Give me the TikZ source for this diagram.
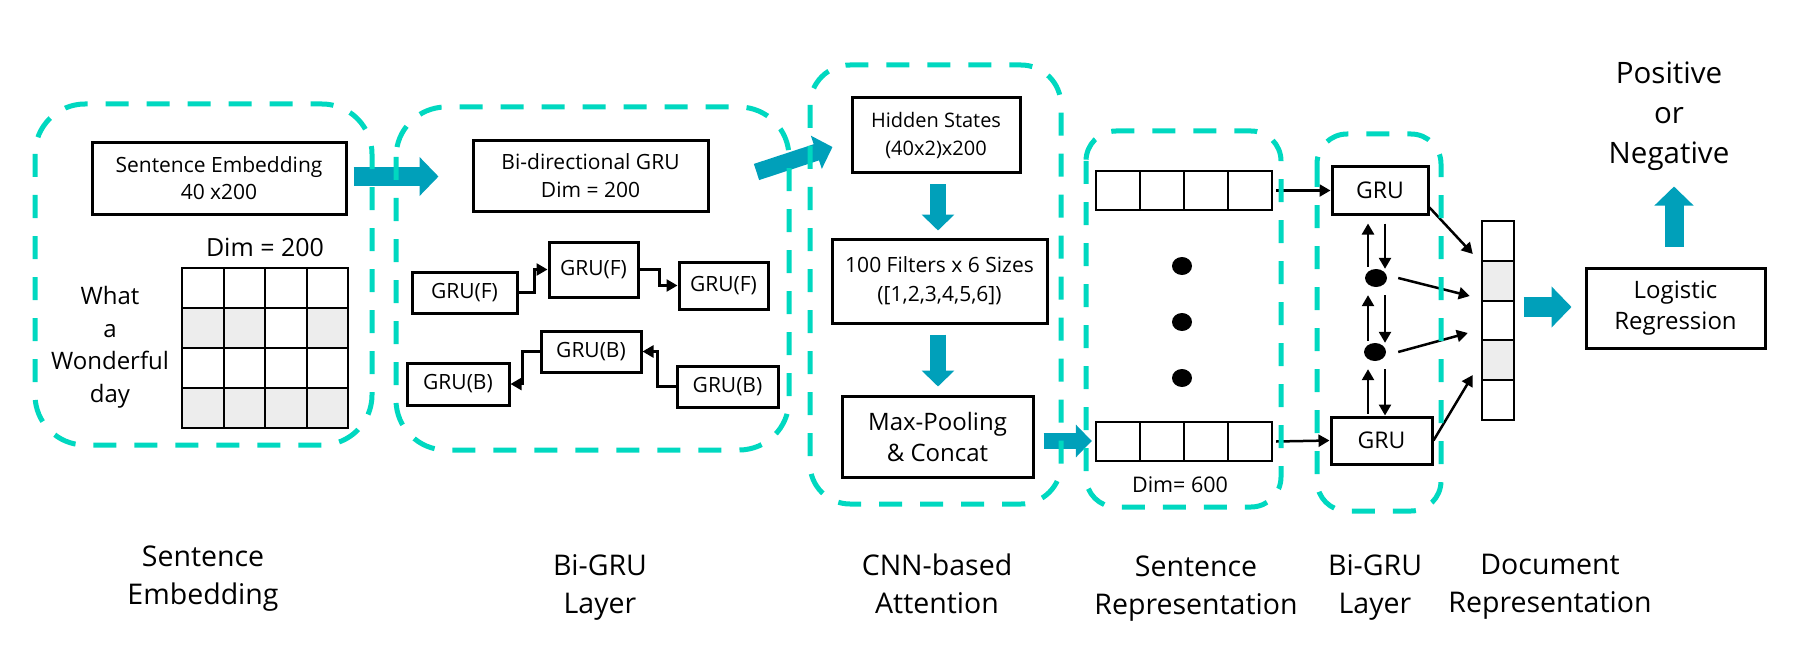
\documentclass[tikz,border=0pt]{standalone}
\usepackage{fontspec}
\setmainfont{Open Sans}
\usetikzlibrary{arrows.meta,calc,shapes.geometric}

\definecolor{stageteal}{RGB}{0,216,192}
\definecolor{flowteal}{RGB}{0,160,186}
\definecolor{cellgray}{RGB}{237,237,237}

\tikzset{
  stage/.style={draw=stageteal, line width=5pt, dash pattern=on 23pt off 18pt},
  blk/.style={draw, line width=3pt, inner sep=0pt, align=center},
  grubox/.style={blk, font=\fontsize{21}{25}\selectfont},
  conn/.style={line width=2.5pt, -{Triangle[length=11pt,width=12pt]}},
  flow/.style={draw=flowteal, line width=#1, -{Triangle[length=0pt 1,width=0pt 2]}},
  vecline/.style={line width=2pt, line cap=rect},
  dot/.style={ellipse, fill=black, inner sep=0pt, minimum width=20pt, minimum height=18pt},
  caption/.style={anchor=north, inner sep=0pt, align=center, font=\fontsize{28.5}{38}\selectfont},
}

% up and down arrows between two stacked elements of the second Bi-GRU
\newcommand{\gruvert}[2]{
  \draw[conn] ($(gd1 |- #2.north)+(-8,-2)$) -- ($(gd1 |- #1.south)+(-8,8)$);
  \draw[conn] ($(gd1 |- #1.south)+(9,8)$) -- ($(gd1 |- #2.north)+(9,0)$);
}

\begin{document}
\begin{tikzpicture}[x=1pt,y=-1pt]
\useasboundingbox (0,0) rectangle (1795,671);

% sentence embedding
\node[blk, minimum width=254pt, minimum height=71pt, font=\fontsize{21}{27}\selectfont] (emb) at (219,178.5) {Sentence Embedding\\40 x200};
\node[anchor=base, font=\fontsize{25}{30}\selectfont] (dimemb) at (265,256) {Dim = 200};
\node[align=center, font=\fontsize{24}{32.5}\selectfont] (words) at (110,347.5) {What\\a\\Wonderful\\day};
\foreach \c/\r in {0/1,1/1,3/1,0/3,1/3,2/3,3/3}
  \fill[cellgray] (182+41.5*\c,268+40*\r) rectangle ++(41.5,40);
\foreach \i in {0,...,4} {
  \draw[vecline] (182+41.5*\i,268) -- ++(0,160);
  \draw[vecline] (182,268+40*\i) -- ++(166,0);
}

% bi-directional GRU
\node[blk, minimum width=235pt, minimum height=70pt, font=\fontsize{21}{28}\selectfont] (bidir) at (590.5,176) {Bi-directional GRU\\Dim = 200};
\node[grubox, minimum width=105pt, minimum height=41pt] (f1) at (464.5,292.5) {GRU(F)};
\node[grubox, minimum width=89pt, minimum height=55pt] (f2) at (593.5,269.5) {GRU(F)};
\node[grubox, minimum width=89pt, minimum height=47pt] (f3) at (723.5,285.5) {GRU(F)};
\node[grubox, minimum width=102pt, minimum height=42pt] (b1) at (458,384) {GRU(B)};
\node[grubox, minimum width=100pt, minimum height=41pt] (b2) at (591,351.5) {GRU(B)};
\node[grubox, minimum width=101pt, minimum height=41pt] (b3) at (727.5,386.5) {GRU(B)};
\draw[conn] (f1.east) -- ++(16,0) |- (f2.west);
\draw[conn] (f2.east) -- ++(20,0) |- (f3.west);
\draw[conn] (b3.west) -- ++(-18,0) |- (b2.east);
\draw[conn] (b2.west) -- ++(-17,0) |- (b1.east);

% CNN-based attention
\node[blk, minimum width=168pt, minimum height=75pt, font=\fontsize{20}{28}\selectfont] (hidden) at (936,135.5) {Hidden States\\(40x2)x200};
\node[blk, minimum width=215pt, minimum height=84pt, font=\fontsize{21}{29}\selectfont] (filters) at (939.5,281) {100 Filters x 6 Sizes\\([1,2,3,4,5,6])};
\node[blk, minimum width=191pt, minimum height=81pt, font=\fontsize{24}{31}\selectfont] (maxpool) at (937.5,436.5) {Max-Pooling\\\& Concat};

% sentence representation
\node[minimum width=176pt, minimum height=39pt, inner sep=0pt] (svtop) at (1184,190.5) {};
\node[minimum width=176pt, minimum height=39pt, inner sep=0pt] (svbot) at (1184,441.5) {};
\foreach \v in {svtop,svbot} {
  \draw[vecline] (\v.north west) rectangle (\v.south east);
  \foreach \i in {1,2,3}
    \draw[vecline] ($(\v.north west)!\i/4!(\v.north east)$) -- ($(\v.south west)!\i/4!(\v.south east)$);
}
\node[dot] (sd1) at (1182,266) {};
\node[dot] (sd2) at (1182,322) {};
\node[dot] (sd3) at (1182,378) {};
\node[anchor=base, font=\fontsize{21.5}{26}\selectfont] (dimsent) at (1180,492) {Dim= 600};

% second Bi-GRU
\node[blk, minimum width=96pt, minimum height=47pt, font=\fontsize{23}{28}\selectfont] (grutop) at (1380,190.5) {GRU};
\node[blk, minimum width=101pt, minimum height=47pt, font=\fontsize{23}{28}\selectfont] (grubot) at (1381.5,440.5) {GRU};
\node[dot, minimum width=22pt] (gd1) at (1376,278) {};
\node[dot, minimum width=22pt] (gd2) at (1375,352) {};
\draw[conn] ($(svtop.east)+(4,0)$) -- (grutop.west);
\draw[conn] ($(svbot.east)+(4,0)$) -- (grubot.west);
\gruvert{grutop}{gd1}
\gruvert{gd1}{gd2}
\gruvert{gd2}{grubot}

% document representation
\node[minimum width=32pt, minimum height=199pt, inner sep=0pt] (docvec) at (1498,320.5) {};
\foreach \i/\j in {1/2,3/4}
  \fill[cellgray] ($(docvec.north west)!\i/5!(docvec.south west)$) rectangle ($(docvec.north east)!\j/5!(docvec.south east)$);
\draw[vecline] (docvec.north west) rectangle (docvec.south east);
\foreach \i in {1,...,4}
  \draw[vecline] ($(docvec.north west)!\i/5!(docvec.south west)$) -- ($(docvec.north east)!\i/5!(docvec.south east)$);
\draw[conn] ($(grutop.south east)+(0,-8)$) -- ($(docvec.west)+(-9,-66.5)$);
\draw[conn] ($(gd1.east)+(11,0)$) -- ($(docvec.west)+(-12,-24.5)$);
\draw[conn] ($(gd2.east)+(12,0)$) -- ($(docvec.west)+(-14,12.5)$);
\draw[conn] (grubot.east) -- ($(docvec.west)+(-9,54.5)$);

\node[blk, minimum width=179pt, minimum height=80pt, font=\fontsize{24}{31}\selectfont] (logreg) at (1675.5,308) {Logistic\\Regression};
\node[align=center, font=\fontsize{29.5}{40}\selectfont] (result) at (1669,116) {Positive\\or\\Negative};

% teal flow arrows
\draw[flow=19pt] ($(bidir.west)+(-118,0.5)$) -- ($(bidir.west)+(-33,0.5)$);
\draw[flow=17pt] ($(bidir.east)+(47,-4)$) -- ($(hidden.west)+(-18,11.5)$);
\draw[flow=16pt] ($(hidden.south)+(2,10)$) -- ($(hidden.south |- filters.north)+(2,-7)$);
\draw[flow=16pt] ($(hidden.south |- filters.south)+(2,10)$) -- ($(hidden.south |- maxpool.north)+(2,-8)$);
\draw[flow=16pt] ($(maxpool.east)+(9,4.5)$) -- ($(svbot.west)+(-4,-0.5)$);
\draw[flow=20pt] ($(logreg.west)+(-61,-1)$) -- ($(logreg.west)+(-13,-1)$);
\draw[flow=19pt] ($(logreg.north)+(-1.5,-20)$) -- ($(logreg.north)+(-1.5,-80)$);

% dashed stages
\draw[stage, rounded corners=50pt] (35,104) rectangle (372,445);
\draw[stage, rounded corners=50pt] (396,107) rectangle (789,450);
\draw[stage, rounded corners=40pt] (810,65) rectangle (1061,504);
\draw[stage, rounded corners=30pt] (1086,131) rectangle (1281,507);
\draw[stage, rounded corners=30pt] (1317,134) rectangle (1441,511);

% captions
\node[caption] (capemb) at (203,546) {Sentence\\Embedding};
\node[caption] (capgru) at (600,554) {Bi-GRU\\Layer};
\node[caption] (capcnn) at (937,554) {CNN-based\\Attention};
\node[caption] (capsent) at (1196,556) {Sentence\\Representation};
\node[caption] (capgrutwo) at (1375,554) {Bi-GRU\\Layer};
\node[caption] (capdoc) at (1550,554) {Document\\Representation};
\end{tikzpicture}
\end{document}
